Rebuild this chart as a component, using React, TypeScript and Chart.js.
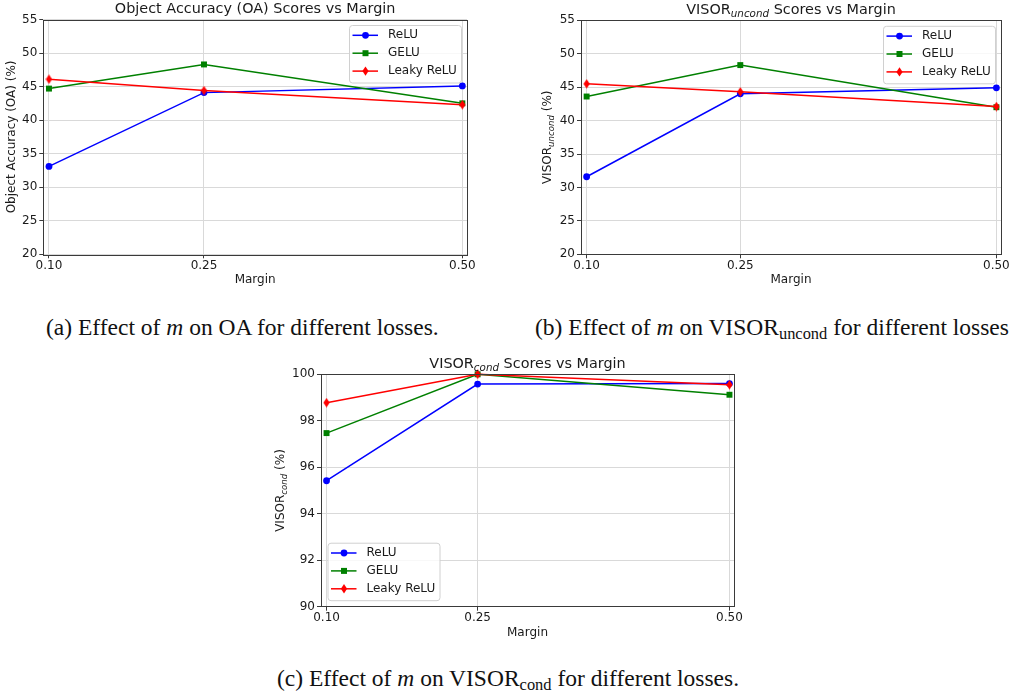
import React, { useEffect, useRef } from "react";
import { Chart, registerables } from "chart.js";

Chart.register(...registerables);

// ---------- data ----------
const margins = [0.1, 0.25, 0.5];
const xTickValues = [0.1, 0.25, 0.5];
const seriesNames = ["ReLU", "GELU", "Leaky ReLU"];

const oaRelu = [33.1, 44.1, 45.1];
const oaGelu = [44.7, 48.3, 42.5];
const oaLeaky = [46.1, 44.4, 42.3];

const uncondRelu = [31.6, 44.0, 44.9];
const uncondGelu = [43.6, 48.3, 42.0];
const uncondLeaky = [45.5, 44.3, 42.1];

const condRelu = [95.42, 99.58, 99.6];
const condGelu = [97.47, 100.0, 99.12];
const condLeaky = [98.78, 100.0, 99.55];

const scoreYTicks = [20, 25, 30, 35, 40, 45, 50, 55];
const condYTicks = [90, 92, 94, 96, 98, 100];

// ---------- styling ----------
const FONT = "'DejaVu Sans', sans-serif";
const TICK_SIZE = 12;
const TITLE_SIZE = 14.4;
const seriesColors = ["#0000ff", "#008000", "#ff0000"];
const GRID = "#d9d9d9";
const SPINE = "#3a3a3a";
const X_MIN = 0.0945;
const X_MAX = 0.5045;

type Part = { t: string; sub?: boolean };

function makeDiamond(color: string): HTMLCanvasElement {
  const c = document.createElement("canvas");
  c.width = 7;
  c.height = 10;
  const g = c.getContext("2d")!;
  g.fillStyle = color;
  g.beginPath();
  g.moveTo(3.5, 0.3);
  g.lineTo(6.6, 5);
  g.lineTo(3.5, 9.7);
  g.lineTo(0.4, 5);
  g.closePath();
  g.fill();
  return c;
}

function drawMarker(ctx: CanvasRenderingContext2D, kind: number, x: number, y: number, color: string) {
  ctx.save();
  ctx.fillStyle = color;
  ctx.beginPath();
  if (kind === 0) {
    ctx.arc(x, y, 3.4, 0, Math.PI * 2);
  } else if (kind === 1) {
    ctx.rect(x - 3, y - 3, 6, 6);
  } else {
    ctx.moveTo(x, y - 4.7);
    ctx.lineTo(x + 3.1, y);
    ctx.lineTo(x, y + 4.7);
    ctx.lineTo(x - 3.1, y);
    ctx.closePath();
  }
  ctx.fill();
  ctx.restore();
}

function drawRich(ctx: CanvasRenderingContext2D, parts: Part[], x: number, y: number, size: number) {
  const normal = `${size}px ${FONT}`;
  const sub = `italic ${size * 0.72}px ${FONT}`;
  let total = 0;
  const widths = parts.map((p) => {
    ctx.font = p.sub ? sub : normal;
    const w = ctx.measureText(p.t).width;
    total += w;
    return w;
  });
  let cx = x - total / 2;
  ctx.textAlign = "left";
  ctx.textBaseline = "middle";
  parts.forEach((p, i) => {
    ctx.font = p.sub ? sub : normal;
    ctx.fillText(p.t, cx, p.sub ? y + size * 0.3 : y);
    cx += widths[i];
  });
}

type Area = { left: number; top: number; right: number; bottom: number };

type Cfg = {
  left: number;
  top: number;
  width: number;
  height: number;
  area: Area;
  series: number[][];
  yTicks: number[];
  title: Part[];
  ylabel: Part[];
  ylabelX: number;
  legendPos: "ur" | "ll";
};

function makePlugin(cfg: Cfg) {
  return {
    id: "decor",
    afterDraw(chart: any) {
      const ctx: CanvasRenderingContext2D = chart.ctx;
      const a = chart.chartArea;
      ctx.save();
      // spines
      ctx.strokeStyle = SPINE;
      ctx.lineWidth = 1;
      ctx.strokeRect(Math.round(a.left) + 0.5, Math.round(a.top) + 0.5, Math.round(a.right - a.left), Math.round(a.bottom - a.top));
      ctx.fillStyle = "#1a1a1a";
      // title
      drawRich(ctx, cfg.title, (a.left + a.right) / 2, a.top - 10.5, TITLE_SIZE);
      // x label
      drawRich(ctx, [{ t: "Margin" }], (a.left + a.right) / 2, a.bottom + 26, TICK_SIZE);
      // y label
      ctx.save();
      ctx.translate(cfg.ylabelX, (a.top + a.bottom) / 2);
      ctx.rotate(-Math.PI / 2);
      drawRich(ctx, cfg.ylabel, 0, 0, TICK_SIZE);
      ctx.restore();
      // legend
      const w = 112;
      const h = 57.5;
      const lx = cfg.legendPos === "ur" ? a.right - 6 - w : a.left + 6.5;
      const ly = cfg.legendPos === "ur" ? a.top + 5.5 : a.bottom - 6.5 - h;
      ctx.beginPath();
      ctx.roundRect(lx + 0.5, ly + 0.5, w, h, 3);
      ctx.fillStyle = "rgba(255,255,255,0.8)";
      ctx.fill();
      ctx.strokeStyle = "#d0d0d0";
      ctx.lineWidth = 1;
      ctx.stroke();
      seriesNames.forEach((name, i) => {
        const ry = ly + 10.3 + i * 17.9;
        ctx.strokeStyle = seriesColors[i];
        ctx.lineWidth = 1.5;
        ctx.beginPath();
        ctx.moveTo(lx + 3.5, ry);
        ctx.lineTo(lx + 29, ry);
        ctx.stroke();
        drawMarker(ctx, i, lx + 16.5, ry, seriesColors[i]);
        ctx.fillStyle = "#1a1a1a";
        ctx.font = `${TICK_SIZE}px ${FONT}`;
        ctx.textAlign = "left";
        ctx.textBaseline = "middle";
        ctx.fillText(name, lx + 39, ry);
      });
      ctx.restore();
    },
  };
}

function ChartBox({ cfg }: { cfg: Cfg }) {
  const ref = useRef<HTMLCanvasElement>(null);
  useEffect(() => {
    const canvas = ref.current!;
    const X_AXIS_H = 40;
    const styles = [
      { pointStyle: "circle", pointRadius: 3.4 },
      { pointStyle: "rect", pointRadius: 4.2 },
      { pointStyle: makeDiamond(seriesColors[2]), pointRadius: 4 },
    ];
    const chart = new Chart(canvas, {
      type: "line",
      data: {
        datasets: cfg.series.map((vals, i) => ({
          label: seriesNames[i],
          data: margins.map((m, j) => ({ x: m, y: vals[j] })),
          borderColor: seriesColors[i],
          backgroundColor: seriesColors[i],
          pointBackgroundColor: seriesColors[i],
          pointBorderWidth: 0,
          borderWidth: 1.5,
          tension: 0,
          clip: false as any,
          order: 2 - i,
          ...styles[i],
        })) as any,
      },
      options: {
        animation: false,
        responsive: false,
        devicePixelRatio: 1,
        events: [],
        layout: {
          autoPadding: false,
          padding: {
            left: 0,
            top: cfg.area.top,
            right: cfg.width - cfg.area.right,
            bottom: cfg.height - cfg.area.bottom - X_AXIS_H,
          },
        },
        plugins: {
          legend: { display: false },
          title: { display: false },
          tooltip: { enabled: false },
        },
        scales: {
          x: {
            type: "linear",
            min: X_MIN,
            max: X_MAX,
            afterBuildTicks: (s: any) => {
              s.ticks = xTickValues.map((v) => ({ value: v }));
            },
            afterFit: (s: any) => {
              s.height = X_AXIS_H;
            },
            ticks: {
              autoSkip: false,
              maxRotation: 0,
              padding: 0,
              color: "#1a1a1a",
              font: { family: FONT, size: TICK_SIZE },
              callback: (v: any) => Number(v).toFixed(2),
            },
            grid: { color: GRID, tickColor: SPINE, tickLength: 4, drawTicks: true },
            border: { display: false },
          },
          y: {
            type: "linear",
            min: cfg.yTicks[0],
            max: cfg.yTicks[cfg.yTicks.length - 1],
            afterBuildTicks: (s: any) => {
              s.ticks = cfg.yTicks.map((v) => ({ value: v }));
            },
            afterFit: (s: any) => {
              s.width = cfg.area.left;
            },
            ticks: {
              padding: 2,
              color: "#1a1a1a",
              font: { family: FONT, size: TICK_SIZE },
              callback: (v: any) => String(v),
            },
            grid: { color: GRID, tickColor: SPINE, tickLength: 4, drawTicks: true },
            border: { display: false },
          },
        },
      } as any,
      plugins: [makePlugin(cfg) as any],
    });
    return () => chart.destroy();
  }, [cfg]);
  return (
    <canvas
      ref={ref}
      width={cfg.width}
      height={cfg.height}
      style={{ position: "absolute", left: cfg.left, top: cfg.top, width: cfg.width, height: cfg.height }}
    />
  );
}

const cfgA: Cfg = {
  left: 0,
  top: 0,
  width: 490,
  height: 300,
  area: { left: 43.3, top: 19.5, right: 467, bottom: 254.3 },
  series: [oaRelu, oaGelu, oaLeaky],
  yTicks: scoreYTicks,
  title: [{ t: "Object Accuracy (OA) Scores vs Margin" }],
  ylabel: [{ t: "Object Accuracy (OA) (%)" }],
  ylabelX: 12,
  legendPos: "ur",
};

const cfgB: Cfg = {
  left: 500,
  top: 0,
  width: 511,
  height: 300,
  area: { left: 81, top: 20.3, right: 501, bottom: 254.3 },
  series: [uncondRelu, uncondGelu, uncondLeaky],
  yTicks: scoreYTicks,
  title: [{ t: "VISOR" }, { t: "uncond", sub: true }, { t: " Scores vs Margin" }],
  ylabel: [{ t: "VISOR" }, { t: "uncond", sub: true }, { t: " (%)" }],
  ylabelX: 48,
  legendPos: "ur",
};

const cfgC: Cfg = {
  left: 260,
  top: 350,
  width: 500,
  height: 300,
  area: { left: 61, top: 24.3, right: 474, bottom: 256.7 },
  series: [condRelu, condGelu, condLeaky],
  yTicks: condYTicks,
  title: [{ t: "VISOR" }, { t: "cond", sub: true }, { t: " Scores vs Margin" }],
  ylabel: [{ t: "VISOR" }, { t: "cond", sub: true }, { t: " (%)" }],
  ylabelX: 21,
  legendPos: "ll",
};

const capStyle: React.CSSProperties = {
  position: "absolute",
  whiteSpace: "nowrap",
  fontFamily: "'Liberation Serif', 'Times New Roman', serif",
  fontSize: 23.5,
  lineHeight: "26px",
  color: "#111",
};
const subStyle: React.CSSProperties = { fontSize: "0.7em", verticalAlign: "-0.22em", lineHeight: 0 };

export default function App() {
  return (
    <div style={{ position: "absolute", left: 0, top: 0, width: 1011, height: 696, background: "#fff", overflow: "hidden" }}>
      <ChartBox cfg={cfgA} />
      <ChartBox cfg={cfgB} />
      <ChartBox cfg={cfgC} />
      <div style={{ ...capStyle, left: 46, top: 314 }}>
        (a) Effect of <i>m</i> on OA for different losses.
      </div>
      <div style={{ ...capStyle, left: 535, top: 314 }}>
        (b) Effect of <i>m</i> on VISOR<span style={subStyle}>uncond</span> for different losses
      </div>
      <div style={{ ...capStyle, left: 277, top: 665 }}>
        (c) Effect of <i>m</i> on VISOR<span style={subStyle}>cond</span> for different losses.
      </div>
    </div>
  );
}
